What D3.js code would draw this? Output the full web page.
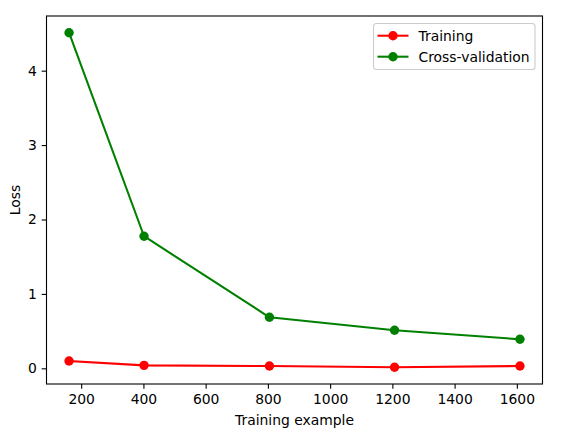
<!DOCTYPE html>
<html>
<head>
<meta charset="utf-8">
<script src="https://cdn.jsdelivr.net/npm/d3@7"></script>
<style>
  html, body { margin: 0; padding: 0; background: #fff; }
  svg { display: block; font-family: "DejaVu Sans", sans-serif; }
</style>
</head>
<body>
<svg id="chart" width="572" height="435"></svg>
<script>
const trainSizes = [161, 402, 805, 1207, 1610];
const trainingLoss = [0.098, 0.040, 0.031, 0.014, 0.031];
const cvLoss = [4.51, 1.775, 0.686, 0.511, 0.390];
const xTicks = [200, 400, 600, 800, 1000, 1200, 1400, 1600];
const yTicks = [0, 1, 2, 3, 4];
const seriesNames = ["Training", "Cross-validation"];
const seriesColors = ["#ff0000", "#008000"];

const W = 572, H = 435;
const m = { left: 46.5, top: 16, right: 29.5, bottom: 51 };
const iw = W - m.left - m.right, ih = H - m.top - m.bottom;

const svg = d3.select("#chart");
const g = svg.append("g").attr("transform", `translate(${m.left},${m.top})`);

const xMin = d3.min(trainSizes), xMax = d3.max(trainSizes);
const xPad = (xMax - xMin) * 0.05;
const allY = trainingLoss.concat(cvLoss);
const yMin = d3.min(allY), yMax = d3.max(allY);
const yPad = (yMax - yMin) * 0.05;

const x = d3.scaleLinear().domain([xMin - xPad, xMax + xPad]).range([0, iw]);
const y = d3.scaleLinear().domain([yMin - yPad, yMax + yPad]).range([ih, 0]);

const tickLen = 4.86, tickPad = 4.86, fs = 13.9, mr = 4.7;

const xAxis = g.append("g").attr("transform", `translate(0,${ih})`)
  .call(d3.axisBottom(x).tickValues(xTicks).tickFormat(d3.format("d")).tickSizeOuter(0).tickSize(tickLen).tickPadding(tickPad));
const yAxis = g.append("g")
  .call(d3.axisLeft(y).tickValues(yTicks).tickFormat(d3.format("d")).tickSizeOuter(0).tickSize(tickLen).tickPadding(tickPad));
[xAxis, yAxis].forEach(a => {
  a.select(".domain").remove();
  a.selectAll(".tick line").attr("stroke", "#000").attr("stroke-width", 1.1);
  a.selectAll(".tick text").attr("fill", "#000").attr("font-size", fs).attr("font-family", "DejaVu Sans");
});
xAxis.selectAll(".tick text").attr("dy", "0.72em");

const series = [trainingLoss, cvLoss];
const line = d3.line().x((d, i) => x(trainSizes[i])).y(d => y(d));
series.forEach((vals, si) => {
  g.append("path").datum(vals).attr("d", line)
    .attr("fill", "none").attr("stroke", seriesColors[si]).attr("stroke-width", 2.08)
    .attr("stroke-linejoin", "round").attr("stroke-linecap", "square");
  g.selectAll(null).data(vals).enter().append("circle")
    .attr("cx", (d, i) => x(trainSizes[i])).attr("cy", d => y(d))
    .attr("r", mr).attr("fill", seriesColors[si]);
});

// frame
g.append("rect").attr("x", 0).attr("y", 0).attr("width", iw).attr("height", ih)
  .attr("fill", "none").attr("stroke", "#000").attr("stroke-width", 1.1);

// labels
svg.append("text").attr("x", m.left + iw / 2).attr("y", 424.5)
  .attr("text-anchor", "middle").attr("font-size", fs).attr("fill", "#000").text("Training example");
svg.append("text").attr("transform", `translate(19.5,${m.top + ih / 2}) rotate(-90)`)
  .attr("text-anchor", "middle").attr("font-size", fs).attr("fill", "#000").text("Loss");

// legend
const lg = svg.append("g").attr("transform", "translate(373.5,23.5)");
lg.append("rect").attr("width", 161.5).attr("height", 46).attr("rx", 2.8)
  .attr("fill", "#fff").attr("fill-opacity", 0.8).attr("stroke", "#cccccc").attr("stroke-width", 1.1);
seriesNames.forEach((name, i) => {
  const cy = 12.2 + i * 21;
  lg.append("line").attr("x1", 4).attr("x2", 35).attr("y1", cy).attr("y2", cy)
    .attr("stroke", seriesColors[i]).attr("stroke-width", 2.08);
  lg.append("circle").attr("cx", 19.5).attr("cy", cy).attr("r", mr).attr("fill", seriesColors[i]);
  lg.append("text").attr("x", 45).attr("y", cy + 5).attr("font-size", fs).attr("fill", "#000").text(name);
});
</script>
</body>
</html>
